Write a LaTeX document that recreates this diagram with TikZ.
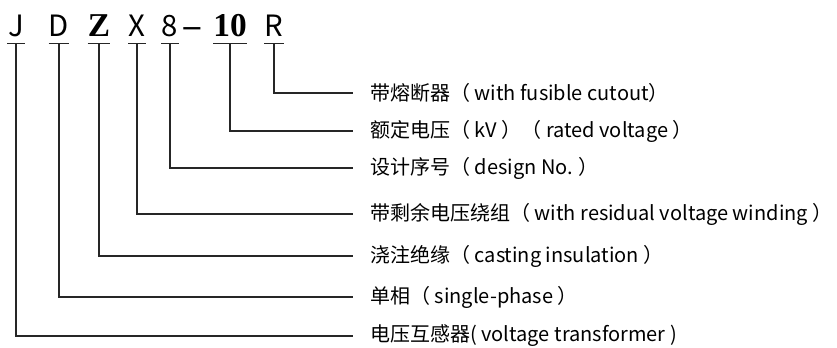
\documentclass[tikz,border=0pt]{standalone}
\usepackage{fontspec}
\setmainfont{Noto Sans CJK SC}
\newfontfamily\boldserif{Liberation Serif}
\usetikzlibrary{positioning}
\tikzset {
    code letter/.style={
        font=\fontsize{22pt}{22pt}\selectfont,
        anchor=base,
        inner sep=0pt,
        text depth=4.5pt,
        minimum width=13pt,
    },
    code bold/.style={
        code letter,
        font=\fontsize{25pt}{25pt}\boldserif\bfseries,
    },
    meaning/.style={
        anchor=west,
        inner sep=0pt,
        font=\fontsize{15pt}{15pt}\selectfont,
    },
    underline/.style={draw=black!85, line width=0.9pt},
    link/.style={draw=black!85, line width=0.8pt, shorten >=12.75pt},
}

\begin{document}
\begin{tikzpicture}[x=0.75pt, y=-0.75pt]
\useasboundingbox (0,0) rectangle (837,348);

% model code
\node[code letter] (j) at (16,37) {J};
\node[code letter] (d) at (59,37) {D};
\node[code bold] (z) at (99,37) {Z};
\node[code letter] (x) at (137,37) {X};
\node[code letter] (eight) at (170,37) {8};
\node[code bold, minimum width=0pt, text depth=0pt] (dash) at (192,37) {–};
\node[code bold] (ten) at (230,37) {10};
\node[code letter] (r) at (274,37) {R};

\draw[underline] (j.south west) -- (j.south east);
\draw[underline] (d.south west) -- (d.south east);
\draw[underline] (z.south west) -- (z.south east);
\draw[underline] (x.south west) -- (x.south east);
\draw[underline] (eight.south west) -- (eight.south east);
\draw[underline] (ten.south west) -- (ten.south east);
\draw[underline] (r.south west) -- (r.south east);

% meanings
\node[meaning] (fuse) at (370,93) {带熔断器（ with fusible cutout）};
\node[meaning] (volt) at (370,131) {额定电压（ kV ）（ rated voltage ）};
\node[meaning] (design) at (370,168) {设计序号（ design No. ）};
\node[meaning] (resid) at (370,214) {带剩余电压绕组（ with residual voltage winding ）};
\node[meaning] (cast) at (370,256) {浇注绝缘（ casting insulation ）};
\node[meaning] (phase) at (370,297) {单相（ single-phase ）};
\node[meaning] (vt) at (370,336) {电压互感器( voltage transformer )};

\draw[link] (r) |- (fuse);
\draw[link] (ten) |- (volt);
\draw[link] (eight) |- (design);
\draw[link] (x) |- (resid);
\draw[link] (z) |- (cast);
\draw[link] (d) |- (phase);
\draw[link] (j) |- (vt);
\end{tikzpicture}
\end{document}
